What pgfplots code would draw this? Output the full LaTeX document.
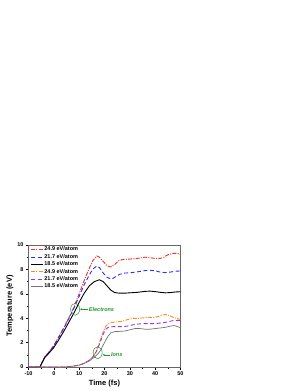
\documentclass[border=0pt]{standalone}
\usepackage{fontspec}
\setmainfont{Liberation Sans}
\usepackage{pgfplots}
\pgfplotsset{compat=1.18}
\usetikzlibrary{arrows.meta}
\definecolor{cred}{RGB}{245,45,45}
\definecolor{cblue}{RGB}{45,45,250}
\definecolor{corange}{RGB}{255,140,20}
\definecolor{cpurple}{RGB}{150,50,245}
\definecolor{cgray}{RGB}{115,115,115}
\definecolor{cgreen}{RGB}{30,150,40}
\begin{document}
\begin{tikzpicture}
\useasboundingbox (-28.5pt,-24pt) rectangle (270.5pt,367pt);
\begin{axis}[
  scale only axis, width=152pt, height=122pt,
  at={(0pt,0pt)}, anchor=south west,
  xmin=-10, xmax=50, ymin=0, ymax=10,
  xtick={-10,0,...,50}, ytick={0,2,...,10},
  minor x tick num=1, minor y tick num=1,
  tick align=outside, xtick pos=bottom, ytick pos=left,
  major tick length=2.5pt, minor tick length=1.5pt,
  axis line style={line width=0.6pt, gray!80!black},
  tick style={line width=0.5pt, black},
  /pgf/number format/assume math mode=true,
  ticklabel style={font=\fontsize{5.5}{6}\selectfont\bfseries},
  xticklabel style={yshift=1pt},
  yticklabel style={xshift=1pt},
  xlabel={\fontsize{7.5}{8}\selectfont\bfseries Time (fs)},
  ylabel={\fontsize{7.5}{8}\selectfont\bfseries Temperature (eV)},
  xlabel style={yshift=3pt},
  ylabel style={yshift=-3pt},
  legend style={at={(0.0,1.0)}, anchor=north west, draw=none, fill=none,
    font=\fontsize{5.5}{6}\selectfont\bfseries, row sep=0.3pt,
    nodes={inner sep=0.8pt}, xshift=-1pt, yshift=1pt},
  legend cell align=left,
  legend image code/.code={\draw[#1] (0pt,0pt) -- (12pt,0pt);},
]
\addplot[cred, line width=0.9pt, dash pattern=on 4pt off 1.3pt on 1pt off 1.3pt] coordinates {
(-10,0) (-5.5,0) (-4.5,0.45) (-3.5,0.85) (-2,1.2) (0,1.75) (2,2.5) (4,3.25) (6,4.05) (8,4.95) (10,6.0) (12,7.1) (14,8.1) (15.5,8.75) (17,9.1) (18,9.0) (19.5,8.65) (21,8.3) (22.5,8.2) (24,8.4) (25.5,8.7) (27,8.8) (30,8.85) (33,8.9) (36,9.0) (38,8.95) (40,8.9) (42,8.9) (43.5,9.0) (45,9.2) (47.5,9.32) (49,9.3) (50,9.18)};
\addlegendentry{24.9 eV/atom}
\addplot[cblue, line width=0.9pt, dash pattern=on 4pt off 2.5pt] coordinates {
(-10,0) (-5.5,0) (-4.5,0.45) (-3.5,0.85) (-2,1.2) (0,1.75) (2,2.45) (4,3.2) (6,4.0) (8,4.85) (10,5.8) (12,6.75) (14,7.55) (15.5,8.05) (17,8.28) (18,8.15) (19.5,7.7) (21,7.35) (22.8,7.2) (24,7.35) (26,7.6) (28,7.7) (30,7.72) (33,7.8) (36,7.9) (38,7.93) (40,7.88) (42,7.78) (44,7.74) (46,7.78) (48,7.85) (50,7.87)};
\addlegendentry{21.7 eV/atom}
\addplot[black, line width=0.9pt] coordinates {
(-10,0) (-5.5,0) (-4.5,0.4) (-3.5,0.8) (-2,1.12) (0,1.6) (2,2.25) (4,2.95) (6,3.7) (8,4.45) (10,5.3) (12,6.05) (14,6.65) (16,7.0) (18,7.15) (19.5,7.0) (21,6.65) (22.5,6.3) (24,6.1) (26,6.05) (28,6.05) (30,6.08) (33,6.12) (36,6.2) (38,6.22) (40,6.18) (42,6.12) (44,6.08) (46,6.1) (48,6.15) (50,6.17)};
\addlegendentry{18.5 eV/atom}
\addplot[corange, line width=0.9pt, dash pattern=on 4pt off 1.3pt on 1pt off 1.3pt] coordinates {
(-10,0) (4,0) (6,0.03) (8,0.08) (10,0.15) (12,0.3) (14,0.55) (15.5,0.85) (16.5,1.2) (17.5,1.7) (18.5,2.3) (19.5,2.9) (20.5,3.35) (21.5,3.55) (23,3.65) (25,3.7) (27,3.75) (29,3.88) (31,3.98) (33,3.98) (35,4.02) (37,4.08) (39,4.05) (41,4.12) (43,4.28) (44.5,4.3) (46,4.18) (48,4.0) (50,3.9)};
\addlegendentry{24.9 eV/atom}
\addplot[cpurple, line width=0.9pt, dash pattern=on 4pt off 2.5pt] coordinates {
(-10,0) (4,0) (6,0.03) (8,0.08) (10,0.15) (12,0.3) (14,0.55) (15.5,0.85) (16.5,1.15) (17.5,1.6) (18.5,2.15) (19.5,2.7) (20.5,3.1) (21.5,3.25) (23,3.3) (25,3.32) (27,3.3) (29,3.35) (31,3.45) (33,3.52) (35,3.55) (37,3.55) (39,3.56) (41,3.58) (43,3.62) (45,3.7) (47,3.8) (49,3.82) (50,3.8)};
\addlegendentry{21.7 eV/atom}
\addplot[cgray, line width=0.7pt] coordinates {
(-10,0) (4,0) (6,0.03) (8,0.08) (10,0.15) (12,0.3) (14,0.5) (16,0.8) (17.5,1.1) (18.5,1.4) (19.5,1.8) (20.5,2.2) (21.5,2.55) (22.5,2.8) (24,2.9) (26,2.92) (28,2.95) (30,3.05) (32,3.15) (34,3.15) (36,3.1) (38,3.1) (40,3.15) (42,3.2) (44,3.25) (46,3.35) (47.5,3.4) (49,3.3) (50,3.22)};
\addlegendentry{18.5 eV/atom}
% annotations
\draw[cgreen, line width=0.5pt] (axis cs:8.4,4.73) ellipse [x radius=4.5pt, y radius=6pt];
\draw[cgreen, line width=0.6pt, -{Latex[length=2pt,width=2pt]}] (axis cs:13.6,4.73) -- (axis cs:10.3,4.73);
\node[anchor=west, inner sep=0.5pt, text=cgreen, font=\fontsize{5.5}{6}\selectfont\bfseries\itshape] at (axis cs:13.6,4.73) {Electrons};
\draw[cgreen, line width=0.5pt] (axis cs:17.3,1.17) ellipse [x radius=4.5pt, y radius=6pt];
\draw[cgreen, line width=0.6pt, -{Latex[length=2pt,width=2pt]}] (axis cs:22.3,1.0) -- (axis cs:19.2,1.0);
\node[anchor=west, inner sep=0.5pt, text=cgreen, font=\fontsize{5.5}{6}\selectfont\bfseries\itshape] at (axis cs:22.3,1.0) {Ions};
\end{axis}
\end{tikzpicture}
\end{document}
